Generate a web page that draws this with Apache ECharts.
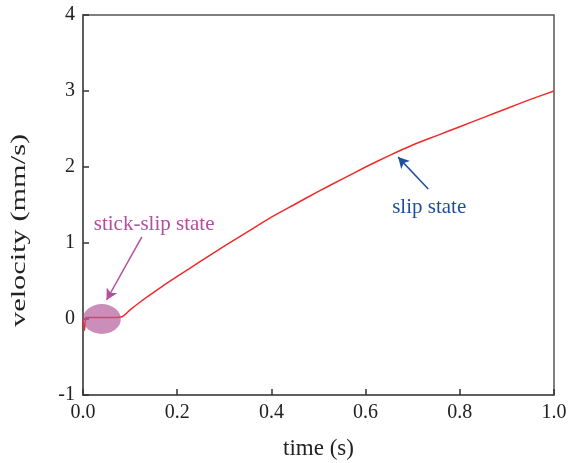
<!DOCTYPE html>
<html>
<head>
<meta charset="utf-8">
<script src="https://cdn.jsdelivr.net/npm/echarts@6/dist/echarts.min.js"></script>
<style>
html,body{margin:0;padding:0;background:#fff;}
#chart{width:568px;height:463px;}
</style>
</head>
<body>
<div id="chart"></div>
<script>
// velocity response over time
const timeS = [0, 0.003, 0.006, 0.01, 0.02, 0.04, 0.06, 0.083, 0.1, 0.125, 0.15, 0.175, 0.2, 0.25, 0.3, 0.35, 0.4, 0.45, 0.5, 0.55, 0.6, 0.65, 0.7, 0.75, 0.8, 0.85, 0.9, 0.95, 1.0];
const velocity = [0.0, -0.15, 0.02, 0.02, 0.02, 0.02, 0.02, 0.03, 0.12, 0.24, 0.35, 0.46, 0.56, 0.76, 0.96, 1.15, 1.34, 1.51, 1.68, 1.84, 2.0, 2.15, 2.29, 2.41, 2.53, 2.65, 2.77, 2.89, 3.0];

const xTicks = [0, 0.2, 0.4, 0.6, 0.8, 1.0];
const yTicks = [-1, 0, 1, 2, 3, 4];

// annotation anchors, in data units
const stickZone = [0.04, 0.0];
const stickText = ['stick-slip state', 0.151, 1.25];
const stickArrow = [[0.125, 1.08], [0.05, 0.25]];
const slipText = ['slip state', 0.735, 1.47];
const slipArrow = [[0.733, 1.71], [0.669, 2.13]];

const FONT = '"Liberation Serif", "Times New Roman", serif';
const AXIS_COLOR = '#555';
const TEXT_COLOR = '#222';
const STICK_COLOR = '#b0509e';
const SLIP_COLOR = '#1f4f9c';

const chart = echarts.init(document.getElementById('chart'), null, {renderer: 'canvas'});

const pts = timeS.map((t, i) => [t, velocity[i]]);

function arrowLine(seg, color) {
  return {
    type: 'line', data: [], silent: true, z: 5,
    markLine: {
      silent: true, animation: false,
      symbol: ['none', 'arrow'], symbolSize: [9, 11],
      lineStyle: {color: color, width: 1.5, type: 'solid', opacity: 1},
      label: {show: false},
      data: [[{coord: seg[0]}, {coord: seg[1]}]]
    }
  };
}

function textLabel(item, color) {
  return {
    type: 'scatter', silent: true, z: 6,
    symbolSize: 0,
    itemStyle: {opacity: 1},
    data: [[item[1], item[2]]],
    label: {
      show: true, position: 'inside', formatter: item[0], opacity: 1,
      color: color, fontFamily: FONT, fontSize: 21
    }
  };
}

const option = {
  animation: false,
  backgroundColor: '#fff',
  grid: {
    left: 83, right: 14, top: 15, bottom: 68,
    outerBoundsMode: 'none', containLabel: false,
    show: true, borderColor: AXIS_COLOR, borderWidth: 1.5
  },
  // vertical axis title, drawn long and narrow
  graphic: [{
    type: 'text', silent: true,
    rotation: Math.PI / 2, scaleX: 1.38, originX: 0, originY: 0,
    style: {text: 'velocity (mm/s)', font: '22px ' + FONT, fill: TEXT_COLOR},
    position: [8, 327]
  }],
  xAxis: {
    type: 'value', min: 0, max: 1, interval: 0.2,
    name: 'time (s)', nameLocation: 'middle', nameGap: 42,
    nameTextStyle: {fontFamily: FONT, fontSize: 23, color: TEXT_COLOR},
    axisLine: {show: true, onZero: false, lineStyle: {color: AXIS_COLOR, width: 1.5}},
    axisTick: {show: true, inside: true, length: 6, lineStyle: {color: '#333', width: 1.5}},
    axisLabel: {
      margin: 8, fontFamily: FONT, fontSize: 20, color: TEXT_COLOR,
      formatter: v => xTicks.some(t => Math.abs(t - v) < 1e-9) ? v.toFixed(1) : ''
    },
    splitLine: {show: false}
  },
  yAxis: {
    type: 'value', min: -1, max: 4, interval: 1,
    axisLine: {show: true, onZero: false, lineStyle: {color: AXIS_COLOR, width: 1.5}},
    axisTick: {show: true, inside: true, length: 6, lineStyle: {color: '#333', width: 1.5}},
    axisLabel: {
      margin: 8, fontFamily: FONT, fontSize: 20, color: TEXT_COLOR,
      formatter: v => yTicks.includes(v) ? String(v) : ''
    },
    splitLine: {show: false}
  },
  series: [
    {
      type: 'line', z: 2,
      data: pts, showSymbol: false, smooth: 0.2,
      lineStyle: {color: '#ee2a2a', width: 1.5}
    },
    {
      type: 'scatter', silent: true, z: 3,
      symbol: 'circle', symbolSize: [38, 30],
      itemStyle: {color: 'rgba(178, 88, 150, 0.68)', opacity: 1},
      data: [stickZone]
    },
    arrowLine(stickArrow, STICK_COLOR),
    arrowLine(slipArrow, SLIP_COLOR),
    textLabel(stickText, STICK_COLOR),
    textLabel(slipText, SLIP_COLOR)
  ]
};

chart.setOption(option);
</script>
</body>
</html>
